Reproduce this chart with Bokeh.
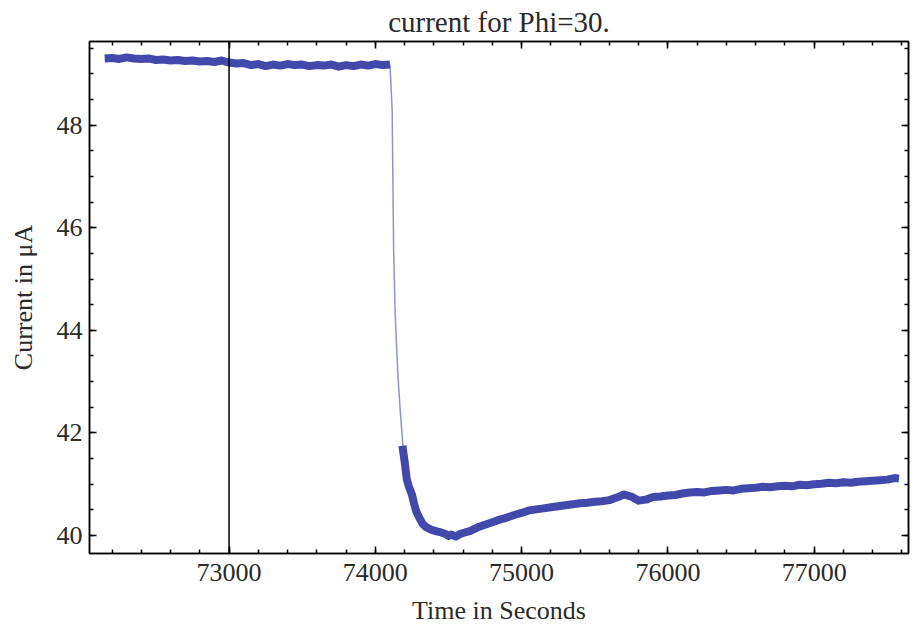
from bokeh.plotting import figure
from bokeh.models import LinearAxis, SingleIntervalTicker, Span, Range1d, CustomJSTickFormatter
from bokeh.embed import file_html
from bokeh.resources import INLINE

# ---- data ----
plateau_t = [72150, 72200, 72250, 72300, 72350, 72400, 72450, 72500, 72550, 72600,
             72650, 72700, 72750, 72800, 72850, 72900, 72950, 73000, 73050, 73100,
             73150, 73200, 73250, 73300, 73350, 73400, 73450, 73500, 73550, 73600,
             73650, 73700, 73750, 73800, 73850, 73900, 73950, 74000, 74050, 74100]
plateau_i = [49.30, 49.31, 49.29, 49.32, 49.30, 49.29, 49.30, 49.27, 49.28, 49.26,
             49.27, 49.25, 49.26, 49.24, 49.25, 49.23, 49.26, 49.22, 49.20, 49.21,
             49.17, 49.19, 49.15, 49.18, 49.16, 49.19, 49.17, 49.18, 49.15, 49.17,
             49.16, 49.18, 49.14, 49.17, 49.15, 49.18, 49.16, 49.19, 49.17, 49.18]

drop_t = [74100, 74115, 74125, 74135, 74145, 74155, 74170, 74190]
drop_i = [49.18, 48.30, 45.60, 44.40, 43.70, 43.10, 42.45, 41.70]

recov_t = [74185, 74200, 74215, 74230, 74250, 74265, 74280, 74300, 74325, 74350,
           74385, 74420, 74450, 74480, 74500, 74520, 74550, 74580, 74600, 74650,
           74700, 74750, 74800, 74850, 74900, 74950, 75000, 75050, 75100, 75150,
           75200, 75250, 75300, 75350, 75400, 75450, 75500, 75550, 75600, 75650,
           75700, 75750, 75800, 75850, 75900, 75950, 76000, 76050, 76100, 76150,
           76200, 76250, 76300, 76350, 76400, 76450, 76500, 76550, 76600, 76650,
           76700, 76750, 76800, 76850, 76900, 76950, 77000, 77050, 77100, 77150,
           77200, 77250, 77300, 77350, 77400, 77450, 77500, 77550, 77580]
recov_i = [41.75, 41.45, 41.10, 40.95, 40.80, 40.62, 40.47, 40.35, 40.22, 40.16,
           40.11, 40.08, 40.06, 40.03, 39.99, 40.02, 39.98, 40.03, 40.05, 40.09,
           40.16, 40.21, 40.26, 40.31, 40.35, 40.40, 40.44, 40.49, 40.51, 40.53,
           40.55, 40.57, 40.59, 40.61, 40.63, 40.64, 40.66, 40.67, 40.69, 40.74,
           40.80, 40.76, 40.68, 40.70, 40.75, 40.76, 40.78, 40.79, 40.82, 40.84,
           40.85, 40.84, 40.87, 40.88, 40.89, 40.88, 40.91, 40.92, 40.93, 40.95,
           40.94, 40.96, 40.97, 40.96, 40.99, 40.98, 41.00, 41.01, 41.03, 41.02,
           41.04, 41.03, 41.05, 41.06, 41.07, 41.08, 41.09, 41.12, 41.11]

marker_time = 73000

title_text = "current for Phi=30."
x_label = "Time in Seconds"
y_label = "Current in μA"

BLUE = "#4349ab"
SERIF = "Liberation Serif"
TXT = "#2a2a2a"

p = figure(width=913, height=631, output_backend="svg", toolbar_location=None,
           x_range=Range1d(72046, 77645), y_range=Range1d(39.65, 49.63),
           min_border_left=89, min_border_right=5, min_border_top=10,
           min_border_bottom=78)
p.background_fill_color = "white"
p.border_fill_color = "white"
p.outline_line_color = "black"
p.outline_line_width = 1.5
p.xgrid.visible = False
p.ygrid.visible = False

p.title.text = title_text
p.title.align = "center"
p.title.text_font = SERIF
p.title.text_font_size = "29px"
p.title.text_font_style = "normal"
p.title.text_color = TXT
p.title.offset = 0
p.title.standoff = 7

def style_axis(ax, labels=True):
    ax.axis_line_color = "black"
    ax.axis_line_width = 1.5
    ax.major_tick_in = 7
    ax.major_tick_out = 0
    ax.minor_tick_in = 4
    ax.minor_tick_out = 0
    ax.major_tick_line_color = "black"
    ax.minor_tick_line_color = "black"
    ax.major_tick_line_width = 1.5
    ax.minor_tick_line_width = 1.5
    ax.major_label_text_font = SERIF
    ax.major_label_text_font_size = "26px"
    ax.major_label_text_color = TXT
    ax.axis_label_text_font = SERIF
    ax.axis_label_text_font_size = "26px"
    ax.axis_label_text_font_style = "normal"
    ax.axis_label_text_color = TXT
    if not labels:
        ax.formatter = CustomJSTickFormatter(code="return '';")
        ax.major_label_standoff = 0

p.xaxis.ticker = SingleIntervalTicker(interval=1000, num_minor_ticks=5)
p.yaxis.ticker = SingleIntervalTicker(interval=2, num_minor_ticks=4)
style_axis(p.xaxis[0])
style_axis(p.yaxis[0])
p.xaxis.axis_label = x_label
p.yaxis.axis_label = y_label
p.xaxis.major_label_standoff = 10
p.yaxis.major_label_standoff = 7
p.xaxis.axis_label_standoff = 12
p.yaxis.axis_label_standoff = 16

top = LinearAxis(ticker=SingleIntervalTicker(interval=1000, num_minor_ticks=5))
style_axis(top, labels=False)
p.add_layout(top, "above")
right = LinearAxis(ticker=SingleIntervalTicker(interval=2, num_minor_ticks=4))
style_axis(right, labels=False)
p.add_layout(right, "right")

p.add_layout(Span(location=marker_time, dimension="height", line_color="black",
                  line_width=1.5))

p.line(plateau_t, plateau_i, line_color=BLUE, line_width=8, line_join="round")
p.line(drop_t, drop_i, line_color=BLUE, line_width=1.5, line_alpha=0.6)
p.line(recov_t, recov_i, line_color=BLUE, line_width=8, line_join="round")

open("out.html", "w").write(file_html(p, INLINE))
